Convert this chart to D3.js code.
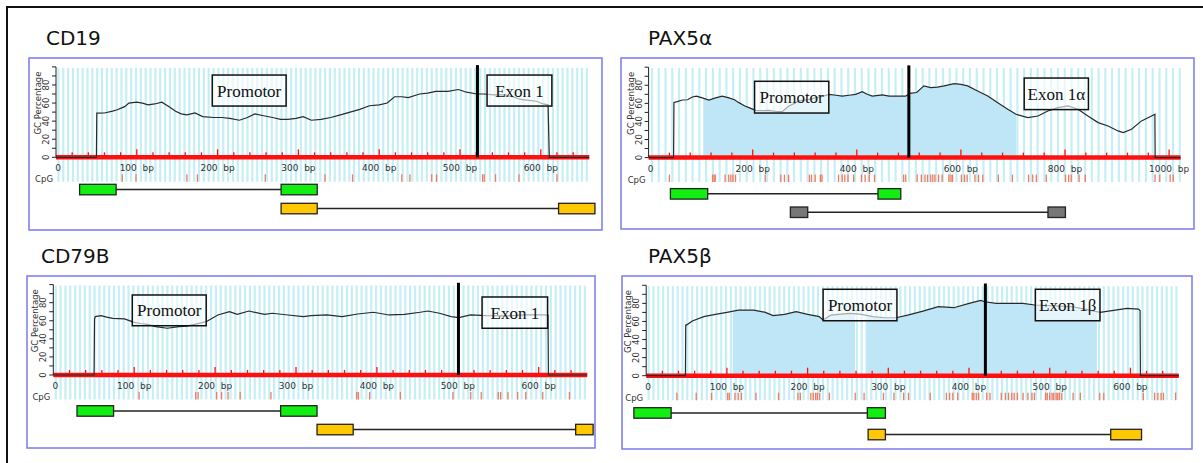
<!DOCTYPE html>
<html><head><meta charset="utf-8">
<script src="https://cdn.jsdelivr.net/npm/d3@7/dist/d3.min.js"></script>
<style>body{margin:0;background:#fff;} svg{display:block;} text{white-space:pre;}</style>
</head><body>
<svg id="c" width="1203" height="463"></svg>
<script>
// ---------------- DATA ----------------
const titles = ["CD19", "PAX5α", "CD79B", "PAX5β"];
const yTicks = [0, 20, 40, 60, 80];
const ticks660 = [0, 100, 200, 300, 400, 500, 600];
const ticks1000 = [0, 200, 400, 600, 800, 1000];

// GC percentage profiles [bp, %]
const cd19GC = [[0,0],[50,0],[50.5,48.9],[60,49],[70,51],[75.8,52.6],[85,56],[90.2,60],[99.8,61],[107,60],[114,58],[122,59],[131,61],[140,56],[148,51],[155,48],[162,47],[172,49],[181.5,45],[195,44],[205.5,44],[215,43],[227,41],[237,44],[246,48],[257,46],[268,44],[278,42],[287,42],[297,43],[306,45],[316,41],[328,42],[340,44],[352,47],[364,50],[376,53],[388,57],[400,58],[410,60],[419,67],[428,67],[436,66],[450,70],[460,71],[470,73],[485,73],[498,75],[508,72],[521,70],[530,70],[542,69],[556,69],[565,67],[575,64],[585,63],[594.5,62],[603,59],[609,58],[610.5,0],[660,0]];
const pax5aGC = [[0,0],[48,0],[48.7,61],[55,62],[64.7,63.7],[75,64],[83.9,67],[92,68],[103,66],[116,63.7],[128.7,66],[141.5,68],[154.3,66],[165,64],[173.5,60.8],[185,57],[192.8,55.3],[205.6,52.3],[218,52],[231,52.3],[245,51],[256.8,50.9],[269.6,57],[280,60],[288.8,62.7],[305,64],[320.8,66],[335,68],[346.5,70],[360,69],[372,68],[385,69],[397.7,70],[410.5,73],[420,70],[429.7,68],[449,69.4],[462,68],[474.5,68],[484,68],[493.8,68],[501.4,71],[515,72],[529,79.3],[542,77.4],[555,78],[567.8,79.3],[587,81.8],[600,81],[613,79.3],[632,73.7],[651.6,68.2],[670.8,60.8],[690,53.5],[706,47.9],[728.7,44.2],[748,46],[767,51.6],[786.5,55.3],[805.7,57.1],[825,53.5],[844,46],[863.6,38.7],[882.8,35],[902,29.5],[911.8,27.6],[927.8,31.3],[947,40.6],[966.3,46.1],[972.7,47.9],[973.2,0],[1022,0]];
const cd79bGC = [[0,0],[50.4,0],[51,62],[51.9,64.6],[59,65.7],[66,64],[73.6,62.7],[88,62],[100,58.3],[108,57],[116.8,56],[126.4,53.5],[140.9,51.7],[155.3,53.5],[165,54],[174.5,56],[189,59],[203.4,66.4],[217.8,70],[227.4,67],[241.8,70.8],[261,67],[270.7,68.3],[290,66.4],[309,64.6],[318.8,65.7],[338,66.4],[357,64.6],[376.4,67.5],[395.7,69.4],[415,66.4],[434,67],[453.4,69.4],[463,70.8],[477.4,68.3],[491.8,64.6],[501.4,63.5],[515.9,66.4],[535,65.7],[559,65.3],[583,66.4],[607,66.4],[611.5,66],[612,0],[660,0]];
const pax5bGC = [[0,0],[48.6,0],[49,56],[50,56],[57.1,60.5],[71.4,65.3],[85.7,67.8],[100,70],[114.3,72.6],[133.4,72.6],[147.7,70],[157.2,66.4],[171.5,67.8],[185.8,70.8],[200.1,67.8],[214.4,65.3],[219.2,61.6],[228.7,67],[252.5,69],[266.8,67.8],[281.1,65.3],[295.4,64.1],[309.7,64.1],[324,67],[343,71.5],[362,76.3],[381.2,75.2],[400.2,80],[414.6,83.3],[419.3,81.8],[433.6,80],[448,80],[466.9,80],[481.3,78.2],[505,77.4],[528.9,76.3],[543.3,73.7],[562.3,70],[581.4,72.6],[595.7,74.5],[610,73.7],[612,72],[612.4,0],[660,0]];

// CpG site positions (bp)
const cd19CpG = [82,99,162,175,259,333,367,428,438,465,471,528,530,544,573,620];
const pax5aCpG = [40,123,126,128,147,154,158,162,167,224,254,261,269,309,313,320,330,333,365,372,377,383,394,409,416,424,434,490,494,516,524,531,536,542,546,550,557,564,577,581,584,601,607,612,627,634,642,672,699,730,738,745,764,801,807,812,827,839,973,982,1002,1008];
const cd79bCpG = [106,176,179,202,208,216,231,269,375,377,391,429,494,516,529,550,553,562,574,584,605,638];
const pax5bCpG = [38,62,81,101,103,110,114,118,136,164,188,191,204,207,210,212,215,227,259,270,294,307,319,325,352,372,376,380,386,404,406,409,412,422,426,440,445,449,453,456,460,467,473,478,481,495,497,500,503,505,508,510,512,515,529,538,562,567,616,630,634,638,641,656];

// CpG island shading ranges (bp)
const pax5aIsland = [[105, 706]];
const pax5bIsland = [[107.2, 258.7], [273, 558.5]];

// transcription start / marker (bp)
const markers = [521.6, 500, 500.8, 420.3];

// primer pairs [start, end] bp
const cd19Fwd = [[29.2,74.4],[278.6,323.3]];
const cd19Rev = [[278.6,323.3],[622,667]];
const pax5aFwd = [[41.9,113.5],[440.7,484.5]];
const pax5aRev = [[272.4,305.7],[767.3,800.8]];
const cd79bFwd = [[29.3,74.5],[281,326]];
const cd79bRev = [[326,370.7],[645.7,667.3]];
const pax5bFwd = [[-15.3,30.9],[274,296.4]];
const pax5bRev = [[275,296.4],[575.6,613.8]];

// region labels
const cd19Labels = [["Promotor",193.4,284.8],["Exon 1",533.5,613.7]];
const pax5aLabels = [["Promotor",203.6,346.2],["Exon 1α",721.6,845]];
const cd79bLabels = [["Promotor",97.6,189],["Exon 1",530,611]];
const pax5bLabels = [["Promotor",219.2,310.7],["Exon 1β",482.2,562.3]];

// ---------------- LAYOUT ----------------
const panels = [
  {title: titles[0], tx: 46, ty: 45, rect: [29, 58, 602, 230], x0: 56, k: 0.808, dmax: 660, y0: 157.3,
   tickStep: 20, majorStep: 100, stripe: 6, ticks: ticks660, gc: cd19GC, cpg: cd19CpG, island: [], marker: markers[0],
   labels: cd19Labels, labelPct: [91, 56.7], rows: [{d: cd19Fwd, c: "#12ee12", off: 27}, {d: cd19Rev, c: "#ffc800", off: 46}]},
  {title: titles[1], tx: 648, ty: 45, rect: [621, 58, 1194, 229], x0: 648.6, k: 0.5205, dmax: 1022, y0: 157.6,
   tickStep: 40, majorStep: 200, stripe: 13, ticks: ticks1000, gc: pax5aGC, cpg: pax5aCpG, island: pax5aIsland, marker: markers[1],
   labels: pax5aLabels, labelPct: [[84.4, 49.3], [88, 53.1]], rows: [{d: pax5aFwd, c: "#12ee12", off: 31}, {d: pax5aRev, c: "#777777", off: 49.4}]},
  {title: titles[2], tx: 41, ty: 263, rect: [27, 276, 595, 448], x0: 53.3, k: 0.809, dmax: 660, y0: 375,
   tickStep: 20, majorStep: 100, stripe: 6, ticks: ticks660, gc: cd79bGC, cpg: cd79bCpG, island: [], marker: markers[2],
   labels: cd79bLabels, labelPct: [[88.5, 54.5], [86.3, 51.7]], rows: [{d: cd79bFwd, c: "#12ee12", off: 30.7}, {d: cd79bRev, c: "#ffc800", off: 49.3}]},
  {title: titles[3], tx: 648, ty: 263, rect: [622, 276, 1192, 449], x0: 646.2, k: 0.807, dmax: 660, y0: 375.7,
   tickStep: 20, majorStep: 100, stripe: 6, ticks: ticks660, gc: pax5bGC, cpg: pax5bCpG, island: pax5bIsland, marker: markers[3],
   labels: pax5bLabels, labelPct: [95.6, 60.8], rows: [{d: pax5bFwd, c: "#12ee12", off: 32}, {d: pax5bRev, c: "#ffc800", off: 53.6}]}
];

const svg = d3.select("#c");
svg.append("rect").attr("width", 1203).attr("height", 463).attr("fill", "#fff");
// outer frame
svg.append("line").attr("x1", 7).attr("x2", 1203).attr("y1", 7).attr("y2", 7).attr("stroke", "#111").attr("stroke-width", 2);
svg.append("line").attr("x1", 7).attr("x2", 7).attr("y1", 6).attr("y2", 463).attr("stroke", "#111").attr("stroke-width", 2);

const defs = svg.append("defs");

panels.forEach((p, pi) => {
  const g = svg.append("g");
  const x = d3.scaleLinear().domain([0, p.dmax]).range([p.x0, p.x0 + p.k * p.dmax]);
  const y = d3.scaleLinear().domain([0, 100]).range([p.y0, p.y0 - 90.4]);

  g.append("text").attr("x", p.tx).attr("y", p.ty).text(p.title)
    .attr("font-family", "DejaVu Sans").attr("font-size", 20).attr("fill", "#111");

  g.append("rect").attr("x", p.rect[0]).attr("y", p.rect[1])
    .attr("width", p.rect[2] - p.rect[0]).attr("height", p.rect[3] - p.rect[1])
    .attr("fill", "#fff").attr("stroke", "#7a7af0").attr("stroke-width", 1.5);

  // background stripes
  const sTop = y(99), sBot = p.y0 + 24.5;
  g.append("g").selectAll("line").data(d3.range(p.stripe / 2, p.dmax, p.stripe)).join("line")
    .attr("x1", d => x(d)).attr("x2", d => x(d)).attr("y1", sTop).attr("y2", sBot)
    .attr("stroke", "#c6eff5").attr("stroke-width", 2.2);

  // CpG island shading
  const area = d3.area().x(d => x(d[0])).y0(y(0)).y1(d => y(d[1]));
  p.island.forEach((r, i) => {
    const id = "clip" + pi + "_" + i;
    defs.append("clipPath").attr("id", id).append("rect")
      .attr("x", x(r[0])).attr("width", x(r[1]) - x(r[0])).attr("y", y(100)).attr("height", y(0) - y(100));
    g.append("path").datum(p.gc).attr("d", area).attr("fill", "#bee6f6").attr("clip-path", `url(#${id})`);
  });

  // red base axis
  g.append("line").attr("x1", x(0)).attr("x2", x(p.dmax)).attr("y1", p.y0).attr("y2", p.y0)
    .attr("stroke", "#ff1010").attr("stroke-width", 4.5);
  g.append("g").selectAll("line").data(d3.range(p.tickStep, p.dmax, p.tickStep)).join("line")
    .attr("x1", d => x(d)).attr("x2", d => x(d)).attr("y1", p.y0)
    .attr("y2", d => p.y0 - (d % p.majorStep === 0 ? 8 : 5))
    .attr("stroke", "#ff1010").attr("stroke-width", 1.3);

  // GC line
  const line = d3.line().x(d => x(d[0])).y(d => y(d[1]));
  g.append("path").datum(p.gc).attr("d", line).attr("fill", "none")
    .attr("stroke", "#2a2a2a").attr("stroke-width", 1.2);

  // marker
  g.append("line").attr("x1", x(p.marker)).attr("x2", x(p.marker)).attr("y1", y(102)).attr("y2", y(0))
    .attr("stroke", "#000").attr("stroke-width", 3);

  // region label boxes
  p.labels.forEach((l, i) => {
    const pct = Array.isArray(p.labelPct[0]) ? p.labelPct[i] : p.labelPct;
    const bx = x(l[1]), bw = x(l[2]) - x(l[1]);
    const by = y(pct[0]), bh = y(pct[1]) - y(pct[0]);
    g.append("rect").attr("x", bx).attr("y", by).attr("width", bw).attr("height", bh)
      .attr("fill", "#fff").attr("fill-opacity", 0.6).attr("stroke", "#111").attr("stroke-width", 1.5);
    g.append("text").attr("x", bx + bw / 2).attr("y", by + bh / 2 + 6).attr("text-anchor", "middle")
      .attr("font-family", "Liberation Serif").attr("font-size", 17).attr("fill", "#111").text(l[0]);
  });

  // y axis
  const ya = g.append("g");
  ya.append("line").attr("x1", x(0)).attr("x2", x(0)).attr("y1", y(0)).attr("y2", y(100)).attr("stroke", "#222").attr("stroke-width", 1);
  ya.selectAll(".t").data(d3.range(0, 101, 10)).join("line")
    .attr("x1", x(0) - 4).attr("x2", x(0)).attr("y1", d => y(d)).attr("y2", d => y(d))
    .attr("stroke", "#222").attr("stroke-width", 1);
  ya.selectAll("text").data(yTicks).join("text")
    .attr("transform", d => `translate(${x(0) - 7},${y(d)}) rotate(-90)`)
    .attr("text-anchor", "middle").attr("font-family", "DejaVu Sans").attr("font-size", 8.5).attr("fill", "#333")
    .text(d => d);
  g.append("text").attr("transform", `translate(${x(0) - 15},${y(60)}) rotate(-90)`)
    .attr("text-anchor", "middle").attr("font-family", "DejaVu Sans").attr("font-size", 8.5).attr("fill", "#333")
    .text("GC Percentage");

  // x tick labels
  g.append("g").selectAll("text").data(p.ticks).join("text")
    .attr("x", d => x(d) + (d === 0 ? 2 : 0)).attr("y", p.y0 + 14).attr("text-anchor", "middle")
    .attr("font-family", "DejaVu Sans").attr("font-size", 9).attr("fill", "#333")
    .text(d => d === 0 ? "0" : d + "  bp");

  // CpG row
  g.append("text").attr("x", x(0) - 3).attr("y", p.y0 + 25).attr("text-anchor", "end")
    .attr("font-family", "DejaVu Sans").attr("font-size", 8.5).attr("fill", "#333").text("CpG");
  g.append("g").selectAll("line").data(p.cpg).join("line")
    .attr("x1", d => x(d)).attr("x2", d => x(d)).attr("y1", p.y0 + 17).attr("y2", p.y0 + 24.5)
    .attr("stroke", "#f47a5e").attr("stroke-width", 1.3);

  // primer rows
  p.rows.forEach(r => {
    const top = p.y0 + r.off, h = 10.5;
    g.append("line").attr("x1", x(r.d[0][1])).attr("x2", x(r.d[1][0]))
      .attr("y1", top + h / 2).attr("y2", top + h / 2).attr("stroke", "#222").attr("stroke-width", 1.5);
    g.append("g").selectAll("rect").data(r.d).join("rect")
      .attr("x", d => x(d[0])).attr("width", d => x(d[1]) - x(d[0]))
      .attr("y", top).attr("height", h)
      .attr("fill", r.c).attr("stroke", "#222").attr("stroke-width", 1.3);
  });
});
</script>
</body></html>
